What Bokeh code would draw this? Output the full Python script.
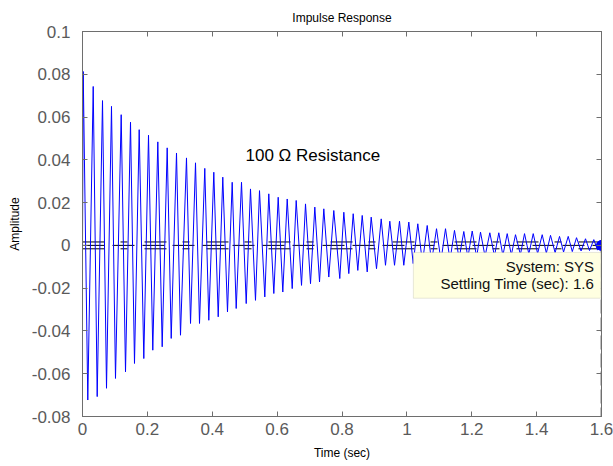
from bokeh.plotting import figure
from bokeh.models import LinearAxis, FixedTicker, Label, BoxAnnotation, Range1d
from bokeh.embed import file_html
from bokeh.resources import INLINE

# ---- data ----
peak_t = [0.0022, 0.033, 0.0617, 0.0894, 0.1193, 0.148, 0.1748, 0.2035, 0.2322, 0.2611,
          0.2898, 0.3206, 0.3484, 0.377, 0.4048, 0.4325, 0.4615, 0.4902, 0.5179, 0.5457,
          0.5743, 0.6033, 0.6311, 0.6588, 0.6875, 0.7162, 0.7439, 0.7747, 0.8056, 0.8345,
          0.8623, 0.89, 0.9209, 0.9474, 0.9773, 1.006, 1.0337, 1.0627, 1.0914, 1.1191,
          1.1468, 1.1755, 1.2014, 1.227, 1.2557, 1.2834, 1.3093, 1.3349, 1.3627, 1.3895,
          1.4172, 1.4428, 1.4706, 1.4974, 1.523, 1.5507, 1.5763]
peak_v = [0.0813, 0.0743, 0.0677, 0.065, 0.0611, 0.0576, 0.0541, 0.0515, 0.0484, 0.0456,
          0.0432, 0.0409, 0.0386, 0.036, 0.0342, 0.0319, 0.0295, 0.0295, 0.0264, 0.0256,
          0.0241, 0.0225, 0.0217, 0.021, 0.0194, 0.0179, 0.0171, 0.0163, 0.0155, 0.0148,
          0.014, 0.0132, 0.0124, 0.0113, 0.0113, 0.0109, 0.0101, 0.0093, 0.0078, 0.0078,
          0.007, 0.0065, 0.0067, 0.0062, 0.0059, 0.0059, 0.0055, 0.005, 0.0055, 0.0055,
          0.005, 0.0047, 0.0042, 0.0042, 0.0036, 0.0031, 0.0027]
trough_t = [0.0163, 0.0453, 0.074, 0.1017, 0.1326, 0.1603, 0.189, 0.2167, 0.2457, 0.2735,
            0.3021, 0.333, 0.3607, 0.3894, 0.4184, 0.447, 0.4738, 0.5047, 0.5333, 0.562,
            0.5898, 0.6175, 0.6465, 0.6752, 0.7029, 0.7307, 0.7593, 0.7932, 0.821, 0.8487,
            0.8777, 0.9064, 0.9341, 0.9619, 0.9905, 1.0195, 1.048, 1.076, 1.105, 1.133,
            1.161, 1.188, 1.215, 1.241, 1.27, 1.296, 1.322, 1.35, 1.376, 1.403,
            1.43, 1.457, 1.483, 1.51, 1.537, 1.563, 1.588]
trough_v = [-0.0723, -0.0707, -0.0668, -0.0622, -0.0591, -0.0552, -0.0529, -0.049, -0.0474, -0.0435,
            -0.042, -0.0365, -0.0365, -0.035, -0.0334, -0.0311, -0.0295, -0.0272, -0.0257, -0.0241,
            -0.0225, -0.0218, -0.0202, -0.0187, -0.0179, -0.0171, -0.0148, -0.0155, -0.0132, -0.0117,
            -0.0124, -0.0109, -0.0093, -0.0093, -0.0093, -0.0085, -0.0082, -0.0078, -0.0072, -0.0068,
            -0.0062, -0.0058, -0.0055, -0.0052, -0.005, -0.0047, -0.0045, -0.0043, -0.004, -0.0038,
            -0.0036, -0.0034, -0.0031, -0.0029, -0.0026, -0.0024, -0.0022]
start_point = (0.0, 0.0)
end_point = (1.6, 0.0)
settle_band = 0.0016
settling_time = 1.6

x_ticks = [0, 0.2, 0.4, 0.6, 0.8, 1.0, 1.2, 1.4, 1.6]
x_tick_labels = ["0", "0.2", "0.4", "0.6", "0.8", "1", "1.2", "1.4", "1.6"]
y_ticks = [-0.08, -0.06, -0.04, -0.02, 0, 0.02, 0.04, 0.06, 0.08, 0.1]
y_tick_labels = ["-0.08", "-0.06", "-0.04", "-0.02", "0", "0.02", "0.04", "0.06", "0.08", "0.1"]

title_text = "Impulse Response"
x_label = "Time (sec)"
y_label = "Amplitude"
note_text = "100 \u03a9 Resistance"
tip_lines = ["System: SYS", "Settling Time (sec): 1.6"]

# ---- build the series ----
pts = sorted(list(zip(peak_t, peak_v)) + list(zip(trough_t, trough_v)))
ts = [start_point[0]] + [p[0] for p in pts] + [end_point[0]]
vs = [start_point[1]] + [p[1] for p in pts] + [end_point[1]]

FONT = "Liberation Sans"
GRAY = "#6e6e6e"
LBL = "#5a5a5a"

p = figure(width=613, height=466, output_backend="svg", toolbar_location=None,
           x_range=Range1d(0, 1.6), y_range=Range1d(-0.08, 0.1),
           min_border_left=82, min_border_right=12, min_border_top=31, min_border_bottom=50,
           x_axis_location=None, y_axis_location=None)
p.background_fill_color = "white"
p.border_fill_color = "white"
p.outline_line_color = GRAY
p.grid.visible = False

p.title.text = title_text
p.title.align = "center"
p.title.text_font = FONT
p.title.text_font_size = "12px"
p.title.text_font_style = "normal"
p.title.text_color = "black"
p.title.standoff = 13


def style_axis(ax, ticks, show_labels):
    ax.ticker = FixedTicker(ticks=ticks)
    ax.axis_line_color = GRAY
    ax.major_tick_line_color = GRAY
    ax.major_tick_in = 5
    ax.major_tick_out = 0
    ax.minor_tick_line_color = None
    ax.major_label_text_font = FONT
    ax.major_label_text_font_size = "17px"
    if show_labels:
        ax.major_label_text_color = LBL
    else:
        ax.major_label_text_color = None
        ax.major_label_standoff = 0


xb = LinearAxis(); xt = LinearAxis(); yl = LinearAxis(); yr = LinearAxis()
style_axis(xb, x_ticks, True)
style_axis(xt, x_ticks, False)
style_axis(yl, y_ticks, True)
style_axis(yr, y_ticks, False)
xb.major_label_overrides = {t: l for t, l in zip(x_ticks, x_tick_labels)}
yl.major_label_overrides = {t: l for t, l in zip(y_ticks, y_tick_labels)}
xb.major_label_standoff = 6
yl.major_label_standoff = 12
xb.axis_label = x_label
yl.axis_label = y_label
for ax in (xb, yl):
    ax.axis_label_text_font = FONT
    ax.axis_label_text_font_size = "12px"
    ax.axis_label_text_font_style = "normal"
    ax.axis_label_text_color = "black"
xb.axis_label_standoff = 8
yl.axis_label_standoff = 7
p.add_layout(xb, "below")
p.add_layout(xt, "above")
p.add_layout(yl, "left")
p.add_layout(yr, "right")

# settling band lines
p.line([0, 1.6], [settle_band, settle_band], line_color="black", line_width=1, line_dash="22 16 7 17")
p.line([0, 1.6], [-settle_band, -settle_band], line_color="black", line_width=1, line_dash="22 16 7 17")
p.line([0, 1.6], [0, 0], line_color="black", line_width=1, line_dash="22 8")

# response
p.line(ts, vs, line_color="#0000ff", line_width=1)

# settling time vertical marker
p.line([settling_time, settling_time], [0, -0.08], line_color="black", line_width=1.5, line_dash="14 4")

# tooltip box
p.add_layout(BoxAnnotation(left=1.02, right=1.598, top=-0.0033, bottom=-0.0247,
                           fill_color="#ffffe1", fill_alpha=1, line_color="#b0b0a0", line_width=1))
p.add_layout(Label(x=1.577, y=-0.0101, text=tip_lines[0], text_align="right", text_baseline="middle",
                   text_font=FONT, text_font_size="15px", text_color="#111111"))
p.add_layout(Label(x=1.577, y=-0.0178, text=tip_lines[1], text_align="right", text_baseline="middle",
                   text_font=FONT, text_font_size="15px", text_color="#111111"))

# settling point marker
p.scatter([end_point[0]], [end_point[1]], size=10, fill_color="#0000ff", line_color="#0000ff")

p.add_layout(Label(x=0.5025, y=0.042, text=note_text, text_align="left", text_baseline="middle",
                   text_font=FONT, text_font_size="17px", text_color="black"))

open("out.html", "w").write(file_html(p, INLINE))
